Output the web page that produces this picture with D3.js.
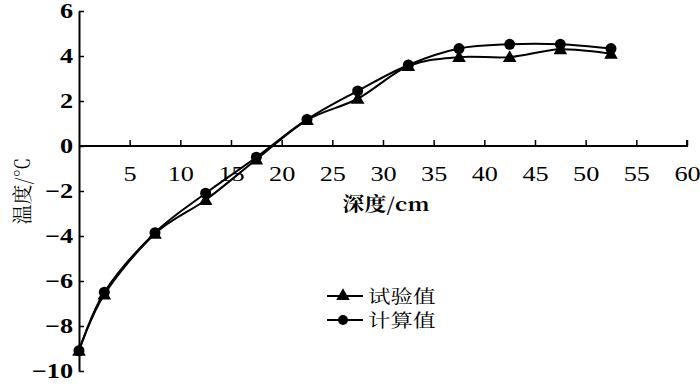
<!DOCTYPE html>
<html>
<head>
<meta charset="utf-8">
<script src="https://cdn.jsdelivr.net/npm/d3@7"></script>
<style>
  body { margin: 0; background: #fff; }
  svg { display: block; }
</style>
</head>
<body>
<div id="chart"></div>
<script>
// Depth (cm) vs temperature (°C): measured and calculated values
const depths = [0, 2.5, 7.5, 12.5, 17.5, 22.5, 27.5, 32.5, 37.5, 42.5, 47.5, 52.5];
const measured = [-9.1, -6.6, -3.9, -2.4, -0.6, 1.15, 2.1, 3.55, 3.95, 3.95, 4.3, 4.1];
const calculated = [-9.1, -6.5, -3.85, -2.1, -0.5, 1.18, 2.45, 3.6, 4.33, 4.52, 4.52, 4.33];
const xTicks = [5, 10, 15, 20, 25, 30, 35, 40, 45, 50, 55, 60];
const yTicks = [-10, -8, -6, -4, -2, 0, 2, 4, 6];
const seriesNames = ['试验值', '计算值'];

const width = 700, height = 389;
const svg = d3.select('#chart').append('svg')
    .attr('width', width)
    .attr('height', height);

const x = d3.scaleLinear().domain([0, 60]).range([79, 687]);
const y = d3.scaleLinear().domain([-10, 6]).range([371, 11]);

const numFont = '"Liberation Serif"';
const cjkFont = '"Noto Serif CJK SC"';
const stretch = 1.25; // the original's text is drawn wide

// y axis (ticks point inward)
const yAxis = svg.append('g')
    .attr('transform', `translate(${x(0)},0)`)
    .call(d3.axisLeft(y).tickValues(yTicks).tickSizeInner(-5).tickSizeOuter(0)
        .tickFormat(d => d < 0 ? '\u2212' + Math.abs(d) : d));
yAxis.select('.domain').attr('stroke', '#000').attr('stroke-width', 2);
yAxis.selectAll('.tick line').attr('stroke', '#000').attr('stroke-width', 1.5);
yAxis.selectAll('.tick text')
    .attr('x', -6 / stretch)
    .attr('transform', `scale(${stretch},1)`)
    .style('font-family', numFont)
    .style('font-size', '21px')
    .style('font-weight', 'bold')
    .attr('fill', '#000');

// x axis on the zero line (ticks point up)
const xAxis = svg.append('g')
    .attr('transform', `translate(0,${y(0)})`)
    .call(d3.axisBottom(x).tickValues(xTicks).tickSizeInner(-6).tickSizeOuter(0));
xAxis.select('.domain').attr('stroke', '#000').attr('stroke-width', 2)
    .attr('d', `M${x(0)},0H${x(60)}V-6`);
xAxis.selectAll('.tick line').attr('stroke', '#000').attr('stroke-width', 1.5);
xAxis.selectAll('.tick text')
    .attr('y', 20)
    .attr('transform', `scale(${stretch},1)`)
    .style('font-family', numFont)
    .style('font-size', '21px')
    .attr('fill', '#000');

// axis titles
svg.append('text')
    .attr('transform', 'translate(386,211) scale(1.15,1)')
    .attr('text-anchor', 'middle')
    .style('font-family', cjkFont)
    .style('font-size', '19px')
    .style('font-weight', 'bold')
    .text('深度/cm');

svg.append('text')
    .attr('transform', 'translate(30,191) rotate(-90)')
    .attr('text-anchor', 'middle')
    .style('font-family', cjkFont)
    .style('font-size', '20px')
    .text('温度/℃');

// smoothed lines
const line = d3.line()
    .x(d => x(d[0]))
    .y(d => y(d[1]))
    .curve(d3.curveCatmullRom.alpha(0));

const measuredPts = depths.map((d, i) => [d, measured[i]]);
const calculatedPts = depths.map((d, i) => [d, calculated[i]]);

[measuredPts, calculatedPts].forEach(pts => {
    svg.append('path')
        .datum(pts)
        .attr('d', line)
        .attr('fill', 'none')
        .attr('stroke', '#000')
        .attr('stroke-width', 2);
});

const triangle = d3.symbol().type(d3.symbolTriangle).size(80);

svg.append('g').selectAll('path')
    .data(measuredPts)
    .join('path')
    .attr('d', triangle)
    .attr('transform', d => `translate(${x(d[0])},${y(d[1]) + 1})`)
    .attr('fill', '#000');

svg.append('g').selectAll('circle')
    .data(calculatedPts)
    .join('circle')
    .attr('cx', d => x(d[0]))
    .attr('cy', d => y(d[1]))
    .attr('r', 5.5)
    .attr('fill', '#000');

// legend
const legend = svg.append('g').attr('transform', 'translate(327,296)');
seriesNames.forEach((name, i) => {
    const row = legend.append('g').attr('transform', `translate(0,${i * 24})`);
    row.append('line')
        .attr('x1', 0).attr('x2', 36)
        .attr('stroke', '#000').attr('stroke-width', 2);
    if (i === 0) {
        row.append('path').attr('d', triangle).attr('transform', 'translate(16,0)').attr('fill', '#000');
    } else {
        row.append('circle').attr('cx', 16).attr('r', 5).attr('fill', '#000');
    }
    row.append('text')
        .attr('transform', `translate(41,7) scale(${stretch},1)`)
        .style('font-family', cjkFont)
        .style('font-size', '18px')
        .text(name);
});
</script>
</body>
</html>
